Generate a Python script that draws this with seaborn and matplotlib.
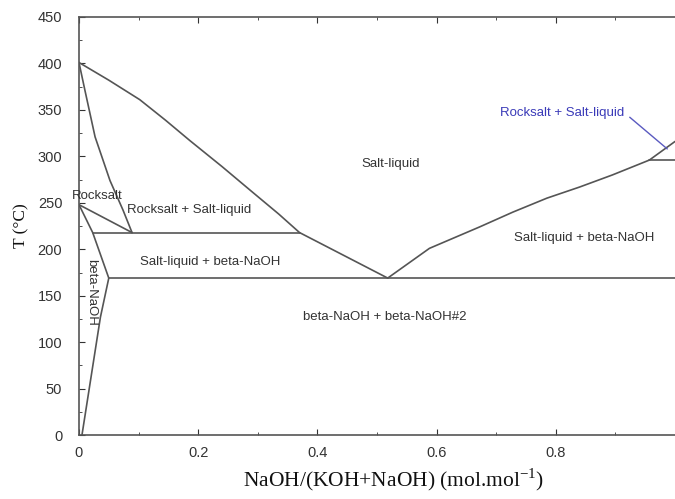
import pandas as pd
import matplotlib.pyplot as plt
import seaborn as sns
from matplotlib.ticker import MultipleLocator

# phase boundaries, x = NaOH fraction, T in degC
liq_left_x = [0.0, 0.05, 0.102, 0.145, 0.186, 0.240, 0.292, 0.335, 0.370, 0.518]
liq_left_T = [401, 382, 361, 339, 317, 289, 261, 238, 218, 169]
liq_right_x = [0.518, 0.588, 0.672, 0.728, 0.785, 0.840, 0.895, 0.957, 1.0]
liq_right_T = [169, 201, 224, 240, 255, 267, 280, 296, 316]
solidus_x = [0.0, 0.010, 0.027, 0.052, 0.074, 0.089]
solidus_T = [401, 371, 321, 274, 242, 218]
solvus_rs_x = [0.0, 0.089]
solvus_rs_T = [248, 218]
beta_x = [0.0, 0.023, 0.050, 0.036, 0.005]
beta_T = [248, 218, 169, 127, 0]
peritectic_x = [0.023, 0.370]
peritectic_T = [218, 218]
eutectic_x = [0.050, 1.0]
eutectic_T = [169, 169]
right_tie_x = [0.957, 1.0]
right_tie_T = [296, 296]

segs = {
    "liq_left": (liq_left_x, liq_left_T),
    "liq_right": (liq_right_x, liq_right_T),
    "solidus": (solidus_x, solidus_T),
    "solvus_rs": (solvus_rs_x, solvus_rs_T),
    "beta": (beta_x, beta_T),
    "peritectic": (peritectic_x, peritectic_T),
    "eutectic": (eutectic_x, eutectic_T),
    "right_tie": (right_tie_x, right_tie_T),
}

rows = []
for name, (xs, ts) in segs.items():
    for i in range(len(xs)):
        rows.append({"seg": name, "x": xs[i], "T": ts[i], "order": i})
df = pd.DataFrame(rows)

sns.set_style("ticks")
plt.rcParams['font.family'] = ['Liberation Sans', 'DejaVu Sans']

fig = plt.figure(figsize=(6.75, 4.99), dpi=100)
ax = fig.add_axes([0.117, 0.128, 0.883, 0.838])

sns.lineplot(data=df, x="x", y="T", units="seg", estimator=None, sort=False,
             color="#555555", linewidth=1.2, ax=ax)

ax.set_xlim(0, 1.0)
ax.set_ylim(0, 450)
ax.set_xticks([0, 0.2, 0.4, 0.6, 0.8])
ax.set_xticklabels(["0", "0.2", "0.4", "0.6", "0.8"])
ax.xaxis.set_minor_locator(MultipleLocator(0.1))
ax.yaxis.set_major_locator(MultipleLocator(50))
ax.yaxis.set_minor_locator(MultipleLocator(25))
ax.tick_params(which="both", direction="in", top=True, labelsize=10.5,
               labelcolor="#333333", color="#333333")
ax.tick_params(which="major", length=4)
ax.tick_params(which="minor", length=2.5)
ax.tick_params(axis="x", pad=8)
ax.tick_params(axis="y", pad=12)
ax.spines["right"].set_visible(False)
for s in ["left", "bottom", "top"]:
    ax.spines[s].set_color("#555555")
    ax.spines[s].set_linewidth(1.2)

ax.set_xlabel(r"NaOH/(KOH+NaOH) (mol.mol$^{\mathregular{-1}}$)",
              family="Liberation Serif", fontsize=15.5, color="#111111")
ax.xaxis.set_label_coords(0.527, -0.075)
ax.set_ylabel("T (°C)", family="Liberation Serif", fontsize=12.5,
              color="#111111", labelpad=6)

tc = "#333333"
fs = 9.5
ax.text(0.523, 292, "Salt-liquid", ha="center", va="center", fontsize=fs, color=tc)
ax.text(0.184, 242, "Rocksalt + Salt-liquid", ha="center", va="center", fontsize=fs, color=tc)
ax.text(0.030, 257, "Rocksalt", ha="center", va="center", fontsize=fs, color=tc)
ax.text(0.22, 186, "Salt-liquid + beta-NaOH", ha="center", va="center", fontsize=fs, color=tc)
ax.text(0.848, 212, "Salt-liquid + beta-NaOH", ha="center", va="center", fontsize=fs, color=tc)
ax.text(0.513, 127, "beta-NaOH + beta-NaOH#2", ha="center", va="center", fontsize=fs, color=tc)
ax.text(0.020, 154, "beta-NaOH", ha="center", va="center", fontsize=fs, color=tc,
        rotation=-90)
ax.annotate("Rocksalt + Salt-liquid", xy=(0.987, 308), xytext=(0.915, 347),
            ha="right", va="center", fontsize=fs, color="#3a3ab8",
            arrowprops=dict(arrowstyle="-", color="#5a5ac0", lw=1.0,
                            relpos=(1.0, 0.5), shrinkA=2, shrinkB=0))

fig.savefig("out.png", dpi=100)
